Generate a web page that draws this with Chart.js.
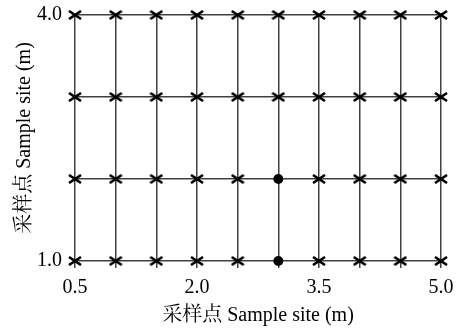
<!DOCTYPE html>
<html>
<head>
<meta charset="utf-8">
<script src="https://cdn.jsdelivr.net/npm/chart.js@4/dist/chart.umd.min.js"></script>
<style>
  html, body { margin: 0; padding: 0; background: #fff; }
  #wrap { width: 460px; height: 332px; }
</style>
</head>
<body>
<div id="wrap"><canvas id="siteChart" width="460" height="332"></canvas></div>
<script>
// grid positions of the sampling layout
const xSites = [0.5, 1.0, 1.5, 2.0, 2.5, 3.0, 3.5, 4.0, 4.5, 5.0];
const ySites = [1.0, 2.0, 3.0, 4.0];
// sites actually sampled (filled dots)
const sampledX = [3.0, 3.0];
const sampledY = [1.0, 2.0];
// labels shown on the axes
const xTickLabels = ["0.5", "2.0", "3.5", "5.0"];
const yTickLabels = ["1.0", "4.0"];
const xTitle = "采样点 Sample site (m)";
const yTitle = "采样点 Sample site (m)";

document.addEventListener("DOMContentLoaded", function () {
    const ctx = document.getElementById("siteChart").getContext("2d");
    const fontFamily = "'Liberation Serif', 'Noto Serif CJK SC', 'Noto Sans CJK SC', serif";
    const lineColor = "#404040";

    // wide "x" marker like in the original figure
    const cross = document.createElement("canvas");
    cross.width = 14;
    cross.height = 10;
    const cc = cross.getContext("2d");
    cc.strokeStyle = "#000";
    cc.lineWidth = 2.6;
    cc.beginPath();
    cc.moveTo(1, 1); cc.lineTo(13, 9);
    cc.moveTo(1, 9); cc.lineTo(13, 1);
    cc.stroke();

    const sampled = sampledX.map((x, i) => ({ x: x, y: sampledY[i] }));
    const isSampled = (x, y) => sampled.some((p) => p.x === x && p.y === y);

    const grid = [];
    ySites.forEach((y) => {
        xSites.forEach((x) => {
            if (!isSampled(x, y)) grid.push({ x: x, y: y });
        });
    });

    new Chart(ctx, {
        type: "scatter",
        data: {
            datasets: [
                {
                    label: "grid",
                    data: grid,
                    pointStyle: cross,
                    pointRadius: 7,
                    clip: false,
                },
                {
                    label: "sampled",
                    data: sampled,
                    pointStyle: "circle",
                    pointRadius: 5,
                    backgroundColor: "#000",
                    borderColor: "#000",
                    borderWidth: 0,
                    clip: false,
                },
            ],
        },
        options: {
            responsive: false,
            animation: false,
            layout: { padding: { left: 0, top: 15, right: 19, bottom: 0 } },
            plugins: {
                legend: { display: false },
                tooltip: { enabled: false },
            },
            scales: {
                x: {
                    type: "linear",
                    min: 0.5,
                    max: 5.0,
                    afterFit: function (scale) {
                        scale.height = 71;
                        scale.paddingLeft = 0;
                        scale.paddingRight = 0;
                    },
                    grid: {
                        color: lineColor,
                        lineWidth: 1.5,
                        drawTicks: true,
                        tickLength: 7,
                    },
                    border: { display: false },
                    ticks: {
                        stepSize: 0.5,
                        autoSkip: false,
                        maxRotation: 0,
                        padding: 8,
                        color: "#000",
                        font: { family: fontFamily, size: 20 },
                        callback: function (val) {
                            const s = Number(val).toFixed(1);
                            return xTickLabels.includes(s) ? s : "";
                        },
                    },
                    title: {
                        display: true,
                        text: xTitle,
                        color: "#000",
                        padding: { top: 0, bottom: 4 },
                        font: { family: fontFamily, size: 20 },
                    },
                },
                y: {
                    type: "linear",
                    min: 1.0,
                    max: 4.0,
                    afterFit: function (scale) {
                        scale.width = 75;
                        scale.paddingTop = 0;
                        scale.paddingBottom = 0;
                    },
                    grid: {
                        color: lineColor,
                        lineWidth: 1.5,
                        drawTicks: false,
                    },
                    border: { display: false },
                    ticks: {
                        stepSize: 1,
                        autoSkip: false,
                        padding: 13,
                        color: "#000",
                        font: { family: fontFamily, size: 20 },
                        callback: function (val) {
                            const s = Number(val).toFixed(1);
                            return yTickLabels.includes(s) ? s : "";
                        },
                    },
                    title: {
                        display: true,
                        text: yTitle,
                        color: "#000",
                        padding: { top: 13, bottom: 0 },
                        font: { family: fontFamily, size: 20 },
                    },
                },
            },
        },
    });
});
</script>
</body>
</html>
